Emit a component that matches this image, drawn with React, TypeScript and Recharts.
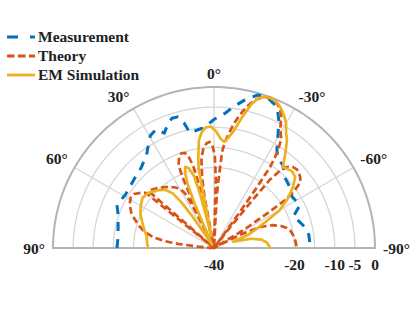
import React from 'react';
import { RadarChart, Radar, PolarGrid, PolarAngleAxis, PolarRadiusAxis } from 'recharts';

// ---------- data (angle in degrees, 0 = broadside, positive to the left; level in dB) ----------
const measAngles = [90, 83.5, 76.5, 71, 66, 59, 53, 47, 42.4, 36, 32.6, 29.5, 26, 23.4, 21, 18, 15.4, 13.5, 11.8, 8, 4.3, 0.4, -4.7, -8, -11.8, -16, -19.8, -24.1, -27, -29.5, -31.5, -33.3, -36, -39.7, -45.4, -51.7, -56.8, -60, -63.4, -68.6, -72, -75.5, -82.2, -89.4];
const measDb = [-15.9, -16.0, -15.5, -14.8, -13.6, -14.3, -14.1, -13.6, -13.1, -11.5, -9.7, -7.9, -7.2, -8.9, -7.5, -6.1, -6.2, -8.0, -10.8, -10.4, -9.9, -8.2, -6.4, -4.5, -2.4, -0.45, -0.4, -1.6, -4.5, -7.7, -10.0, -11.5, -12.8, -13.2, -15.2, -15.9, -16.8, -16.5, -16.1, -18.9, -18.0, -17.2, -16.2, -16.1];

const theoryAngles = [90, 87, 85, 83.5, 82, 80, 77, 74, 70, 67, 63, 59, 56, 53, 51, 50, 49, 47, 44, 41, 37, 33, 30, 28, 27, 26.3, 25.8, 25, 24, 23, 21, 19, 17, 15.5, 14.2, 13.5, 12.8, 12, 10.5, 9.5, 8, 6, 4, 2.5, 1, -0.5, -1.5, -2.3, -3, -3.6, -4.3, -4.8, -5.9, -7.1, -9, -11, -13, -15.5, -18, -20.5, -23, -25, -27, -29, -31.7, -33.5, -34.7, -35.3, -35.7, -36.2, -37.5, -38.8, -39.3, -40.8, -42.5, -44.3, -46.5, -48.6, -51, -52.9, -54.4, -56, -57, -58.5, -60, -62, -63.5, -65.5, -68.7, -72, -74.7, -77.5, -80.7, -85, -90];
const theoryDb = [-40, -39, -36, -31, -27.5, -24.8, -22.3, -20.8, -19, -17.7, -16.5, -15.8, -16.0, -17.2, -18.2, -40, -18.5, -18.8, -19.4, -20.1, -21, -22, -23, -24.5, -28, -33, -40, -30, -20.5, -17.5, -15.8, -15.1, -15.3, -16.5, -19, -23, -30, -40, -27, -22, -17.5, -15, -13.9, -13.6, -14.3, -17, -23, -40, -27, -24, -20, -16, -13.5, -11.7, -8.8, -6.3, -4, -1.8, -0.6, -0.2, -0.6, -1.5, -3.2, -6.0, -8.2, -11.5, -15.5, -22, -30, -40, -35, -24, -18, -13.8, -12.6, -11.9, -11.6, -11.8, -12.4, -13.2, -15.3, -18.7, -24, -31, -40, -38, -32, -27.4, -24.3, -22.4, -21.2, -20.5, -20.1, -19.7, -19.4];

const emAngles = [90, 85, 80, 75, 70, 65, 60, 55, 50, 45, 40, 37, 35.5, 34.5, 33.5, 31, 28, 26, 24.5, 23.5, 22.5, 21, 19.5, 17.5, 15.5, 14.5, 13.5, 12.5, 11, 10, 8, 6, 4, 1.5, -1, -3.5, -5.5, -7.5, -9.3, -12, -14.5, -16.5, -18.5, -20.5, -22.5, -24.5, -26.5, -28.5, -30, -32, -34, -36, -38, -40.4, -43, -45.4, -48.8, -52.3, -56, -60, -62.6, -66, -69, -72, -76, -80, -84, -90];
const emDb = [-23.6, -23.3, -23.0, -22.0, -21.0, -19.8, -19.0, -18.3, -18.7, -19.8, -21.1, -23.0, -26, -30, -36, -39, -39, -38, -34, -28, -23, -20, -18.6, -19.2, -21.5, -26, -33, -37, -20, -17.5, -13, -11, -10, -9.8, -11, -12.8, -13.5, -12.3, -10.8, -7.0, -3.2, -1.2, -0.4, -0.2, -0.4, -1.0, -2.0, -3.2, -4.2, -6.2, -7.6, -9.6, -11.5, -13.6, -13.2, -12.8, -13.2, -15.2, -17.8, -21.1, -24.9, -28.5, -31, -35, -30.5, -28, -26.8, -26];

const angleTicks = [-90, -60, -30, 0, 30, 60, 90];
const radiusTicks = [-40, -20, -10, -5, 0];
const ringLevels = [-20, -15, -10, -5];
const seriesNames = ['Measurement', 'Theory', 'EM Simulation'];

// ---------- styling / geometry ----------
const W = 415;
const H = 312;
const CX = 214;
const CY = 248;
const R = 161;
const DB_MIN = -40;
const DB_MAX = 0;
const BLUE = '#0072BD';
const RED = '#D95319';
const YELLOW = '#EDB120';
const FONT = '"Liberation Serif", "Times New Roman", serif';
const FS = 15.5;

const levelToPx = (v: number) => ((v - DB_MIN) / (DB_MAX - DB_MIN)) * R;
const fineAngles: number[] = [];
for (let a = 0; a <= 180; a += 2) fineAngles.push(a);

const data = [
  ...measAngles.map((a, i) => ({ angle: a, meas: measDb[i] })),
  ...theoryAngles.map((a, i) => ({ angle: a, theory: theoryDb[i] })),
  ...emAngles.map((a, i) => ({ angle: a, em: emDb[i] })),
];

const openCurve = (stroke: string, width: number, dash?: string) => (props: any) => {
  const pts = (props.points || []).filter(
    (p: any) => p && p.value != null && Number.isFinite(p.x) && Number.isFinite(p.y)
  );
  const d = pts.map((p: any, i: number) => `${i ? 'L' : 'M'}${p.x.toFixed(2)},${p.y.toFixed(2)}`).join('');
  return (
    <path
      d={d}
      fill="none"
      stroke={stroke}
      strokeWidth={width}
      strokeDasharray={dash}
      strokeLinejoin="round"
    />
  );
};

const AngleTick = (props: any) => {
  const { x, y, textAnchor, payload } = props;
  const v = payload.value;
  const side = Math.abs(v) === 90;
  return (
    <text
      x={x}
      y={y}
      dy={side ? 5.5 : 0}
      textAnchor={textAnchor}
      fontFamily={FONT}
      fontWeight="bold"
      fontSize={FS}
      fill="#222"
    >
      {`${v}°`}
    </text>
  );
};

const RadiusTick = (props: any) => {
  const { x, y, payload } = props;
  return (
    <text x={x} y={y} dy={21.5} textAnchor="middle" fontFamily={FONT} fontWeight="bold" fontSize={FS} fill="#222">
      {payload.value}
    </text>
  );
};

const legendItems = [
  { name: seriesNames[0], color: BLUE, dash: '11 12' },
  { name: seriesNames[1], color: RED, dash: '7.5 3.5' },
  { name: seriesNames[2], color: YELLOW, dash: undefined },
];

export default function App() {
  return (
    <div style={{ position: 'absolute', left: 0, top: 0, width: W, height: H, background: '#fff' }}>
      <RadarChart
        width={W}
        height={H}
        data={data}
        cx={CX}
        cy={CY}
        innerRadius={0}
        outerRadius={R}
        startAngle={0}
        endAngle={180}
        margin={{ top: 0, right: 0, bottom: 0, left: 0 }}
      >
        <PolarGrid
          gridType="polygon"
          polarAngles={fineAngles}
          polarRadius={ringLevels.map(levelToPx)}
          radialLines={false}
          stroke="#d6d6d6"
          strokeWidth={1.3}
        />
        <PolarGrid
          gridType="polygon"
          polarAngles={[0, 30, 60, 90, 120, 150, 180]}
          polarRadius={[0.01]}
          stroke="#d6d6d6"
          strokeWidth={1.3}
        />
        <PolarGrid
          gridType="polygon"
          polarAngles={fineAngles}
          polarRadius={[R]}
          radialLines={false}
          stroke="#b4b4b4"
          strokeWidth={2}
        />
        <PolarAngleAxis
          dataKey="angle"
          type="number"
          domain={[-90, 90]}
          ticks={angleTicks as any}
          tickCount={7}
          axisLine={false}
          tickLine={false}
          tick={<AngleTick />}
        />
        <PolarRadiusAxis
          angle={0}
          type="number"
          domain={[DB_MIN, DB_MAX]}
          ticks={radiusTicks as any}
          allowDataOverflow
          axisLine={false}
          tickLine={false}
          tick={<RadiusTick />}
        />
        <Radar
          name={seriesNames[0]}
          dataKey="meas"
          stroke={BLUE}
          fill="none"
          dot={false}
          isAnimationActive={false}
          shape={openCurve(BLUE, 3, '9 8')}
        />
        <Radar
          name={seriesNames[1]}
          dataKey="theory"
          stroke={RED}
          fill="none"
          dot={false}
          isAnimationActive={false}
          shape={openCurve(RED, 2.7, '7 3.5')}
        />
        <Radar
          name={seriesNames[2]}
          dataKey="em"
          stroke={YELLOW}
          fill="none"
          dot={false}
          isAnimationActive={false}
          shape={openCurve(YELLOW, 2.7)}
        />
      </RadarChart>
      <svg
        width={170}
        height={90}
        style={{ position: 'absolute', left: 0, top: 0, pointerEvents: 'none' }}
      >
        {legendItems.map((it, i) => {
          const yLine = 37 + i * 19;
          return (
            <g key={it.name}>
              <line x1={7} x2={35} y1={yLine} y2={yLine} stroke={it.color} strokeWidth={2.8} strokeDasharray={it.dash} />
              <text x={38} y={yLine + 5} fontFamily={FONT} fontWeight="bold" fontSize={FS} fill="#222">
                {it.name}
              </text>
            </g>
          );
        })}
      </svg>
    </div>
  );
}
